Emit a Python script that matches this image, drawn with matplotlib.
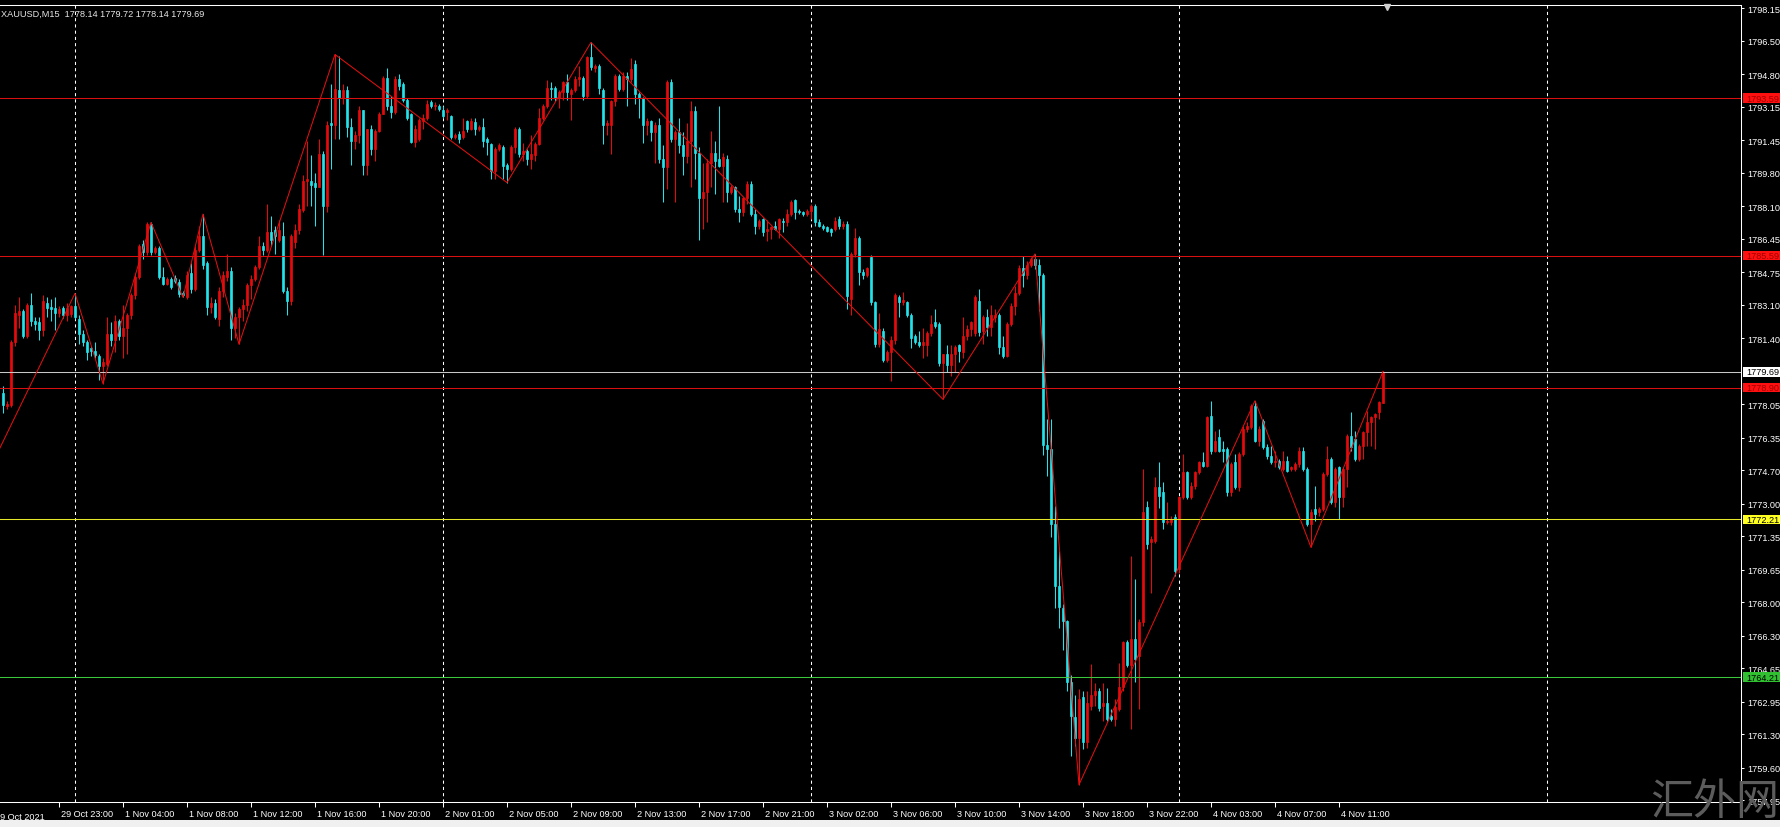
import numpy as np
import pandas as pd
import matplotlib
matplotlib.use('Agg')
import matplotlib.pyplot as plt
from matplotlib.patches import Rectangle
from matplotlib.transforms import blended_transform_factory, ScaledTranslation

plt.rcParams['font.family'] = ['Liberation Sans', 'DejaVu Sans']

# --- XAUUSD M15, valori (una barra ogni 15 minuti) ---
opens = [
    1778.6, 1777.95, 1778.0, 1781.2, 1782.6, 1782.8, 1781.5, 1783.1, 1782.3, 1782.2,
    1781.8, 1783.2, 1783.0, 1782.95, 1782.7, 1782.95, 1782.6, 1782.65, 1783.05, 1782.4,
    1781.6, 1781.2, 1780.9, 1780.75, 1780.5, 1780.0, 1780.1, 1781.6, 1781.3, 1782.3,
    1781.5, 1781.9, 1782.6, 1783.6, 1784.5, 1786.2, 1785.8, 1787.2, 1785.8, 1786.0,
    1784.5, 1784.15, 1784.4, 1784.45, 1784.25, 1783.7, 1783.5, 1784.7, 1783.9, 1785.9,
    1786.6, 1785.2, 1783.0, 1783.2, 1782.4, 1783.8, 1784.5, 1784.8, 1781.9, 1782.5,
    1782.9, 1783.1, 1784.1, 1784.4, 1785.0, 1786.1, 1785.9, 1786.8, 1786.9, 1786.4,
    1786.6, 1783.8, 1783.3, 1786.3, 1786.9, 1787.9, 1789.4, 1789.4, 1789.3, 1789.1,
    1790.75, 1788.1, 1792.3, 1792.2, 1794.0, 1793.6, 1794.0, 1792.1, 1791.4, 1791.7,
    1793.0, 1790.2, 1792.0, 1791.0, 1791.9, 1792.8, 1794.6, 1793.2, 1792.9, 1794.55,
    1794.3, 1793.5, 1792.8, 1791.35, 1791.5, 1792.4, 1792.6, 1793.4, 1793.2, 1793.2,
    1793.0, 1792.9, 1792.7, 1791.6, 1791.75, 1791.6, 1792.4, 1792.0, 1792.35, 1792.0,
    1792.1, 1791.5, 1791.25, 1789.9, 1791.0, 1791.1, 1790.2, 1790.0, 1791.1, 1792.0,
    1790.75, 1790.9, 1790.5, 1790.7, 1791.25, 1792.6, 1793.2, 1794.1, 1794.1, 1793.6,
    1793.9, 1794.4, 1793.8, 1794.0, 1794.55, 1794.6, 1793.7, 1795.65, 1795.1, 1795.2,
    1794.0, 1792.2, 1792.2, 1793.45, 1794.7, 1794.05, 1794.7, 1794.55, 1795.3, 1793.8,
    1793.6, 1792.2, 1792.4, 1791.85, 1792.2, 1790.5, 1790.07, 1794.4, 1791.5, 1791.85,
    1791.2, 1790.65, 1791.4, 1792.95, 1790.8, 1788.5, 1788.8, 1790.3, 1790.8, 1790.5,
    1790.15, 1790.5, 1788.8, 1789.05, 1787.95, 1787.8, 1788.5, 1789.25, 1787.7, 1787.1,
    1787.45, 1786.85, 1786.95, 1787.1, 1786.95, 1787.35, 1787.3, 1787.7, 1788.4, 1787.85,
    1787.8, 1787.7, 1787.87, 1788.1, 1787.3, 1787.1, 1787.03, 1786.95, 1786.95, 1787.45,
    1787.1, 1787.2, 1783.4, 1785.7, 1786.5, 1784.77, 1784.6, 1785.5, 1783.23, 1781.13,
    1781.77, 1780.31, 1780.68, 1781.31, 1783.5, 1783.23, 1783.23, 1782.6, 1781.5, 1781.2,
    1781.04, 1781.04, 1781.68, 1782.2, 1782.13, 1780.13, 1780.59, 1780.04, 1780.59, 1781.04,
    1780.68, 1781.5, 1781.86, 1781.68, 1783.3, 1781.77, 1782.5, 1781.95, 1782.5, 1782.6,
    1780.95, 1780.5, 1782.13, 1783.04, 1783.68, 1784.95, 1784.59, 1785.14, 1785.4, 1785.1,
    1784.6, 1776.0, 1775.8, 1772.0, 1768.85, 1767.7, 1767.03, 1763.94, 1762.2, 1761.1,
    1763.2, 1760.9, 1762.75, 1763.3, 1763.48, 1762.75, 1762.9, 1762.25, 1762.08, 1762.6,
    1763.69, 1765.97, 1764.8, 1766.14, 1765.3, 1766.98, 1772.82, 1771.04, 1771.13, 1773.83,
    1773.58, 1772.06, 1772.06, 1772.31, 1769.69, 1773.33, 1774.6, 1773.33, 1773.92, 1774.6,
    1775.1, 1774.93, 1777.47, 1775.69, 1776.37, 1775.78, 1775.78, 1773.58, 1775.1, 1773.83,
    1775.52, 1776.79, 1776.88, 1777.98, 1776.2, 1777.22, 1775.86, 1775.44, 1775.1, 1775.19,
    1774.76, 1775.19, 1774.76, 1774.76, 1775.02, 1775.69, 1774.76, 1771.97, 1772.74, 1772.57,
    1772.74, 1774.51, 1775.27, 1773.07, 1774.85, 1773.33, 1774.76, 1776.45, 1776.29, 1775.27,
    1775.95, 1776.62, 1777.13, 1777.39, 1777.64, 1778.14,
]
highs = [
    1779.0, 1778.2, 1781.3, 1783.1, 1783.5, 1782.9, 1783.2, 1783.7, 1782.5, 1782.5,
    1783.6, 1783.5, 1783.4, 1783.5, 1783.05, 1783.05, 1783.2, 1783.1, 1783.7, 1782.6,
    1781.8, 1781.3, 1781.0, 1781.2, 1780.6, 1780.4, 1782.5, 1782.2, 1782.6, 1782.4,
    1783.1, 1782.7, 1783.7, 1784.7, 1786.2, 1786.4, 1787.3, 1787.28, 1786.1, 1786.1,
    1785.0, 1784.5, 1784.5, 1784.6, 1784.4, 1783.8, 1784.8, 1785.2, 1786.1, 1787.1,
    1787.7, 1785.3, 1783.5, 1783.4, 1784.0, 1784.8, 1785.7, 1785.0, 1782.7, 1783.0,
    1783.4, 1784.2, 1784.6, 1785.1, 1786.6, 1786.3, 1788.2, 1787.6, 1787.1, 1787.4,
    1787.3, 1784.0, 1786.7, 1787.2, 1788.2, 1789.7, 1791.4, 1790.7, 1789.8, 1791.5,
    1790.9, 1792.4, 1794.3, 1795.8, 1795.7, 1794.3, 1794.2, 1792.6, 1791.9, 1793.2,
    1793.0, 1792.0, 1792.2, 1792.0, 1792.9, 1794.7, 1795.1, 1793.7, 1794.7, 1794.8,
    1794.4, 1793.6, 1792.85, 1792.2, 1792.6, 1792.8, 1793.5, 1793.5, 1793.4, 1793.3,
    1793.2, 1793.1, 1792.75, 1791.8, 1791.9, 1792.6, 1792.5, 1792.6, 1792.6, 1792.2,
    1792.6, 1791.6, 1791.3, 1791.1, 1791.3, 1791.2, 1790.3, 1791.2, 1792.1, 1792.1,
    1791.3, 1791.0, 1791.7, 1791.35, 1793.1, 1793.3, 1794.5, 1794.4, 1794.2, 1794.0,
    1794.45, 1794.8, 1794.1, 1794.7, 1795.2, 1794.7, 1795.7, 1796.41, 1795.3, 1795.3,
    1794.1, 1792.5, 1793.5, 1794.8, 1794.8, 1794.9, 1794.9, 1795.6, 1795.5, 1793.9,
    1793.65, 1792.6, 1792.5, 1792.35, 1792.6, 1791.2, 1794.5, 1794.55, 1791.95, 1792.6,
    1791.85, 1792.3, 1793.45, 1793.2, 1791.1, 1790.3, 1790.5, 1791.9, 1791.4, 1793.2,
    1790.8, 1790.7, 1789.2, 1789.15, 1788.6, 1788.55, 1789.4, 1789.4, 1787.95, 1787.45,
    1787.5, 1787.4, 1787.1, 1787.35, 1787.5, 1787.5, 1787.95, 1788.4, 1788.45, 1787.95,
    1787.85, 1787.95, 1788.2, 1788.2, 1787.45, 1787.2, 1787.1, 1787.0, 1787.53, 1787.6,
    1787.37, 1787.37, 1785.8, 1787.0, 1786.6, 1784.9, 1785.0, 1785.6, 1783.3, 1782.68,
    1781.9, 1780.8, 1781.5, 1783.7, 1783.59, 1783.77, 1783.3, 1782.7, 1781.6, 1781.77,
    1781.9, 1781.77, 1782.6, 1782.86, 1782.2, 1780.6, 1781.04, 1781.04, 1781.04, 1781.1,
    1782.5, 1782.05, 1782.3, 1783.6, 1783.9, 1782.6, 1782.86, 1783.1, 1782.9, 1782.7,
    1781.5, 1782.2, 1783.2, 1784.05, 1785.14, 1785.59, 1785.3, 1785.5, 1785.68, 1785.4,
    1784.7, 1777.3, 1777.3, 1772.9, 1770.6, 1767.9, 1767.1, 1764.3, 1763.3, 1763.6,
    1763.5, 1763.5, 1764.85, 1763.9, 1763.66, 1763.9, 1763.66, 1762.6, 1763.1, 1764.9,
    1766.05, 1766.1, 1770.37, 1769.18, 1767.15, 1774.76, 1773.15, 1771.38, 1774.34, 1775.1,
    1774.1, 1773.07, 1772.4, 1772.5, 1773.4, 1775.52, 1774.68, 1774.09, 1774.68, 1775.19,
    1775.61, 1777.47, 1778.23, 1776.71, 1776.79, 1776.2, 1775.86, 1775.1, 1775.52, 1775.61,
    1776.96, 1777.13, 1778.06, 1778.23, 1776.96, 1777.3, 1776.03, 1775.95, 1775.69, 1775.27,
    1775.69, 1775.44, 1774.93, 1775.1, 1775.86, 1775.86, 1774.85, 1772.74, 1773.92, 1772.82,
    1774.6, 1775.95, 1775.36, 1774.85, 1774.9, 1774.85, 1776.54, 1777.64, 1776.71, 1776.03,
    1776.71, 1777.72, 1777.47, 1777.6, 1778.23, 1779.72,
]
lows = [
    1777.6, 1777.8, 1777.9, 1781.0, 1781.9, 1781.4, 1781.4, 1782.0, 1781.8, 1781.3,
    1781.5, 1782.5, 1782.3, 1781.8, 1782.5, 1782.45, 1782.3, 1782.5, 1782.4, 1781.1,
    1781.0, 1780.3, 1780.5, 1780.4, 1779.3, 1779.1, 1780.0, 1781.0, 1780.7, 1781.3,
    1780.4, 1780.6, 1782.4, 1783.4, 1784.4, 1785.4, 1785.6, 1785.6, 1785.7, 1784.4,
    1784.1, 1784.1, 1783.9, 1784.2, 1783.5, 1783.47, 1783.4, 1783.7, 1783.8, 1785.8,
    1784.9, 1782.6, 1782.7, 1782.4, 1782.0, 1783.5, 1784.3, 1781.3, 1781.4, 1781.1,
    1782.3, 1782.8, 1783.4, 1784.3, 1784.9, 1785.6, 1785.8, 1786.1, 1785.7, 1786.3,
    1783.7, 1782.6, 1783.1, 1786.0, 1786.7, 1787.8, 1788.1, 1788.1, 1787.1, 1789.1,
    1785.6, 1787.8, 1790.0, 1791.5, 1791.5, 1793.3, 1791.6, 1790.2, 1791.0, 1791.3,
    1789.7, 1789.7, 1790.7, 1790.4, 1791.85, 1792.8, 1793.0, 1792.6, 1792.8, 1794.0,
    1793.4, 1792.5, 1791.3, 1791.1, 1791.4, 1792.0, 1792.5, 1793.1, 1793.0, 1792.95,
    1792.6, 1792.5, 1791.5, 1791.5, 1791.3, 1791.5, 1791.85, 1791.95, 1791.7, 1791.9,
    1791.1, 1790.7, 1789.5, 1789.5, 1790.9, 1789.5, 1789.3, 1789.9, 1790.8, 1790.6,
    1790.4, 1790.2, 1790.0, 1790.4, 1791.2, 1792.5, 1793.1, 1793.5, 1793.45, 1793.1,
    1793.5, 1793.5, 1792.5, 1793.9, 1794.2, 1793.5, 1793.6, 1795.0, 1794.9, 1793.8,
    1791.25, 1791.7, 1790.75, 1793.2, 1793.96, 1793.96, 1793.2, 1794.4, 1793.3, 1792.6,
    1791.3, 1791.7, 1791.4, 1790.3, 1790.3, 1788.3, 1788.97, 1791.35, 1788.3, 1790.8,
    1789.7, 1790.3, 1789.1, 1789.5, 1786.4, 1786.95, 1787.3, 1789.1, 1788.7, 1790.1,
    1788.3, 1788.3, 1788.7, 1787.8, 1787.3, 1787.6, 1788.2, 1787.6, 1786.7, 1786.95,
    1786.6, 1786.35, 1786.45, 1786.9, 1786.5, 1786.8, 1787.1, 1787.6, 1787.45, 1787.7,
    1787.6, 1787.6, 1787.45, 1787.1, 1787.05, 1786.9, 1786.77, 1786.6, 1786.86, 1786.95,
    1786.95, 1782.9, 1782.6, 1785.5, 1784.1, 1784.4, 1784.5, 1783.1, 1780.95, 1780.95,
    1780.2, 1780.2, 1779.22, 1781.1, 1782.5, 1783.1, 1782.5, 1780.9, 1781.1, 1780.95,
    1780.4, 1780.5, 1781.5, 1781.9, 1780.0, 1778.3, 1779.68, 1779.5, 1779.68, 1780.2,
    1780.4, 1781.3, 1781.5, 1781.5, 1781.5, 1781.1, 1781.5, 1781.5, 1782.2, 1780.6,
    1780.4, 1780.45, 1782.0, 1782.6, 1783.6, 1784.0, 1784.4, 1785.0, 1784.9, 1782.8,
    1775.5, 1774.4, 1771.3, 1767.7, 1766.7, 1765.6, 1763.5, 1760.2, 1760.7, 1758.75,
    1760.55, 1760.6, 1762.55, 1762.75, 1762.5, 1762.0, 1762.0, 1762.0, 1761.75, 1762.5,
    1763.5, 1764.7, 1761.57, 1763.94, 1762.6, 1766.8, 1770.7, 1768.5, 1771.0, 1772.8,
    1771.7, 1771.97, 1771.9, 1769.35, 1769.5, 1773.25, 1773.25, 1773.25, 1773.75, 1774.51,
    1774.85, 1774.85, 1775.52, 1775.61, 1775.61, 1775.1, 1773.41, 1773.41, 1773.75, 1773.67,
    1775.44, 1776.62, 1776.79, 1776.12, 1775.95, 1775.78, 1775.27, 1775.02, 1774.85, 1774.76,
    1774.68, 1774.59, 1774.68, 1774.68, 1774.85, 1774.68, 1771.89, 1770.79, 1772.14, 1772.4,
    1772.65, 1774.43, 1772.99, 1772.82, 1772.23, 1772.82, 1773.83, 1775.69, 1775.19, 1775.19,
    1775.27, 1775.95, 1775.95, 1775.78, 1777.3, 1778.14,
]
closes = [
    1778.0, 1778.05, 1781.2, 1782.7, 1782.8, 1781.5, 1783.1, 1782.3, 1782.1, 1781.8,
    1783.3, 1782.95, 1782.9, 1782.7, 1782.9, 1782.6, 1782.95, 1783.05, 1782.5, 1781.6,
    1781.2, 1780.7, 1780.75, 1780.55, 1780.0, 1780.2, 1781.6, 1781.3, 1782.3, 1781.5,
    1781.9, 1782.6, 1783.6, 1784.5, 1786.1, 1785.8, 1787.2, 1785.8, 1786.0, 1784.5,
    1784.15, 1784.4, 1784.0, 1784.3, 1783.65, 1783.6, 1784.6, 1783.9, 1785.9, 1786.6,
    1785.1, 1783.0, 1783.2, 1782.5, 1783.8, 1784.6, 1784.8, 1781.9, 1782.5, 1782.9,
    1783.1, 1784.1, 1784.4, 1785.0, 1786.1, 1785.9, 1786.8, 1786.4, 1786.6, 1786.9,
    1783.8, 1783.3, 1786.6, 1786.9, 1787.96, 1789.4, 1789.5, 1789.2, 1789.1, 1790.75,
    1788.1, 1792.2, 1792.2, 1794.05, 1793.6, 1794.0, 1792.1, 1791.4, 1791.7, 1793.0,
    1790.2, 1792.0, 1791.0, 1791.9, 1792.8, 1794.6, 1793.2, 1792.9, 1794.55, 1794.2,
    1793.5, 1792.6, 1791.35, 1792.0, 1792.45, 1792.6, 1793.3, 1793.2, 1793.25, 1793.05,
    1792.7, 1793.0, 1791.6, 1791.7, 1791.5, 1791.9, 1792.0, 1792.4, 1792.0, 1792.1,
    1791.4, 1791.35, 1789.9, 1791.0, 1791.2, 1790.15, 1790.0, 1791.1, 1792.0, 1790.75,
    1790.9, 1790.5, 1790.75, 1791.25, 1792.6, 1793.2, 1794.1, 1794.05, 1793.6, 1793.9,
    1794.4, 1793.9, 1794.0, 1794.55, 1794.65, 1793.7, 1795.65, 1795.15, 1795.2, 1794.1,
    1792.2, 1792.3, 1793.45, 1794.7, 1794.05, 1794.7, 1794.55, 1795.05, 1793.8, 1793.6,
    1792.2, 1792.4, 1791.85, 1792.2, 1790.5, 1790.07, 1794.4, 1791.5, 1791.85, 1791.2,
    1790.65, 1791.4, 1792.95, 1790.8, 1788.5, 1788.8, 1790.3, 1790.8, 1790.4, 1790.15,
    1790.6, 1788.8, 1789.05, 1787.95, 1787.8, 1788.5, 1789.25, 1787.7, 1787.1, 1787.37,
    1786.8, 1786.95, 1787.03, 1786.95, 1787.45, 1787.3, 1787.7, 1788.3, 1787.8, 1787.8,
    1787.7, 1787.87, 1788.1, 1787.3, 1787.1, 1787.0, 1786.86, 1786.8, 1787.37, 1787.1,
    1787.2, 1783.56, 1785.68, 1786.5, 1784.77, 1784.6, 1784.95, 1783.23, 1781.13, 1781.86,
    1780.31, 1780.68, 1781.31, 1783.59, 1783.23, 1783.32, 1782.6, 1781.4, 1781.2, 1781.04,
    1781.2, 1781.68, 1782.13, 1782.04, 1780.13, 1780.59, 1780.04, 1780.59, 1780.95, 1780.77,
    1781.5, 1781.86, 1782.2, 1783.5, 1781.7, 1782.5, 1781.95, 1782.6, 1782.6, 1780.95,
    1780.5, 1782.13, 1783.04, 1783.68, 1784.95, 1784.59, 1785.14, 1785.4, 1785.1, 1784.6,
    1776.0, 1775.8, 1772.0, 1768.85, 1767.76, 1767.03, 1763.94, 1762.21, 1761.1, 1763.1,
    1760.9, 1762.9, 1763.3, 1763.48, 1762.66, 1762.9, 1762.1, 1762.08, 1762.67, 1763.69,
    1765.97, 1764.8, 1766.14, 1765.13, 1766.98, 1772.57, 1770.96, 1771.21, 1773.83, 1773.41,
    1772.06, 1772.14, 1772.23, 1769.6, 1773.33, 1774.6, 1773.33, 1773.92, 1774.6, 1775.1,
    1774.93, 1777.39, 1775.69, 1776.2, 1775.69, 1775.69, 1773.58, 1775.02, 1773.83, 1775.52,
    1776.79, 1776.96, 1777.98, 1776.2, 1776.79, 1775.86, 1775.44, 1775.1, 1775.19, 1774.85,
    1775.19, 1774.68, 1774.85, 1775.02, 1775.69, 1774.76, 1771.97, 1772.57, 1772.48, 1772.74,
    1774.51, 1775.27, 1773.07, 1774.76, 1773.33, 1774.76, 1776.45, 1775.86, 1775.27, 1775.95,
    1776.62, 1777.13, 1777.39, 1777.56, 1778.15, 1779.69,
]

# vertici dello ZigZag (indice barra, prezzo)
zz_bars = [-3, 18, 25, 37, 45, 50, 59, 83, 126, 147, 235, 258, 269, 313, 327, 345]
zz_prices = [1774.9, 1783.68, 1779.1, 1787.28, 1783.47, 1787.7, 1781.1, 1795.8,
             1789.3, 1796.41, 1778.3, 1785.68, 1758.75, 1778.23, 1770.79, 1779.72]

# livelli orizzontali
level_prices = [1793.59, 1785.59, 1778.90, 1772.21, 1764.21]
level_colors = ['#d81010', '#d81010', '#d81010', '#e6e62a', '#3cc83c']
box_colors = ['#ff1010', '#ff1010', '#ff1010', '#ffff20', '#30c030']
box_text = ['#a00000', '#a00000', '#a00000', '#000000', '#000000']
bid = 1779.69

y_ticks = [1798.15, 1796.50, 1794.80, 1793.15, 1791.45, 1789.80, 1788.10, 1786.45,
           1784.75, 1783.10, 1781.40, 1778.05, 1776.35, 1774.70, 1773.00, 1771.35,
           1769.65, 1768.00, 1766.30, 1764.65, 1762.95, 1761.30, 1759.60, 1757.95]
x_labels = ['29 Oct 23:00', '1 Nov 04:00', '1 Nov 08:00', '1 Nov 12:00', '1 Nov 16:00',
            '1 Nov 20:00', '2 Nov 01:00', '2 Nov 05:00', '2 Nov 09:00', '2 Nov 13:00',
            '2 Nov 17:00', '2 Nov 21:00', '3 Nov 02:00', '3 Nov 06:00', '3 Nov 10:00',
            '3 Nov 14:00', '3 Nov 18:00', '3 Nov 22:00', '4 Nov 03:00', '4 Nov 07:00',
            '4 Nov 11:00']
title = 'XAUUSD,M15  1778.14 1779.72 1778.14 1779.69'

# orari delle barre: sessioni 01:00-23:45, venerdi fino alle 23:45
sessions = [('2021-10-29 19:30', '2021-10-29 23:45')] + \
           [(f'2021-11-0{d} 01:00', f'2021-11-0{d} 23:45') for d in range(1, 6)]
times = pd.DatetimeIndex(np.concatenate(
    [pd.date_range(a, b, freq='15min').values for a, b in sessions]))

RED = '#e80a0a'
CYAN = '#22e2ea'

W, H = 1781, 828
fig = plt.figure(figsize=(W / 100, H / 100), dpi=100, facecolor='black')
ax = fig.add_axes([0, 25 / H, 1741 / W, 797 / H], facecolor='black')

o, h, l, c = map(np.array, (opens, highs, lows, closes))
x = np.arange(len(c))
col = np.where(c >= o, RED, CYAN)
ax.vlines(x, l, h, colors=col, lw=0.75, zorder=3)
ax.bar(x, np.abs(c - o), bottom=np.minimum(o, c), width=0.62, color=col,
       edgecolor=col, linewidth=0.5, zorder=4)

# griglia verticale all'inizio di ogni giorno
day_start = np.where((times.hour == 1) & (times.minute == 0))[0]
for d in day_start:
    ax.axvline(d, color='white', lw=0.75, ls=(0, (3, 3)), zorder=1)

for p, lc in zip(level_prices, level_colors):
    ax.axhline(p, color=lc, lw=0.75, zorder=5)
ax.axhline(bid, color='#c8c8c8', lw=0.75, zorder=5)

ax.plot(zz_bars, zz_prices, color='#e01010', lw=0.75, zorder=6)

ax.set_xlim(-0.75, 434.5)
ax.set_ylim(1757.87, 1798.31)

# asse prezzi a destra
ax.yaxis.tick_right()
ax.set_yticks(y_ticks)
ax.set_yticklabels([f'{v:.2f}' for v in y_ticks])
ax.tick_params(axis='y', colors='white', labelcolor='white', length=2.5,
               width=0.75, labelsize=6.6, pad=2)

# asse tempo
tick_pos = [times.get_loc(pd.to_datetime('2021 ' + s, format='%Y %d %b %H:%M'))
            for s in x_labels]
ax.set_xticks(tick_pos)
ax.set_xticklabels(x_labels, ha='left')
ax.tick_params(axis='x', colors='white', labelcolor='white', length=3.5,
               width=0.75, labelsize=6.6, pad=1.5)
shift = ScaledTranslation(2 / 100, 0, fig.dpi_scale_trans)
for lbl in ax.get_xticklabels():
    lbl.set_transform(lbl.get_transform() + shift)
ax.text(-2, -0.012, '29 Oct 2021', transform=blended_transform_factory(ax.transData, ax.transAxes),
        color='white', fontsize=6.6, ha='left', va='top', clip_on=False)

for side in ['top', 'right', 'bottom']:
    ax.spines[side].set_color('white')
    ax.spines[side].set_linewidth(0.75)
ax.spines['left'].set_visible(False)

# etichette colorate dei livelli sulla scala prezzi
trans = blended_transform_factory(ax.transAxes, ax.transData)
half = 0.24
for p, bg, fg in zip(level_prices + [bid], box_colors + ['#ffffff'], box_text + ['#000000']):
    ax.add_patch(Rectangle((1743 / 1741, p - half), 40 / 1741, 2 * half, transform=trans,
                           facecolor=bg, edgecolor='none', clip_on=False, zorder=10))
    ax.text(1746.5 / 1741, p, f'{p:.2f}', transform=trans, color=fg, fontsize=6.6,
            ha='left', va='center', clip_on=False, zorder=11)

# marcatore di shift del grafico
ax.plot([len(c)], [0.997], transform=blended_transform_factory(ax.transData, ax.transAxes),
        marker='v', ms=4, color='#d0d0d0', clip_on=False, zorder=10)

fig.text(1 / W, 1 - 14 / H, title, color='#e6e6e6', fontsize=6.6, ha='left', va='center')

fig.patches.append(Rectangle((0, 0), 1, 7 / H, transform=fig.transFigure,
                             facecolor='#f0f0f0', edgecolor='none'))
fig.text(1650 / W, 1 - 803 / H, '汇外网', family=['Noto Sans CJK SC', 'DejaVu Sans'],
         fontsize=31, color='#5c5c5c', ha='left', va='center', zorder=20)

fig.savefig('out.png', dpi=100, facecolor='black')
